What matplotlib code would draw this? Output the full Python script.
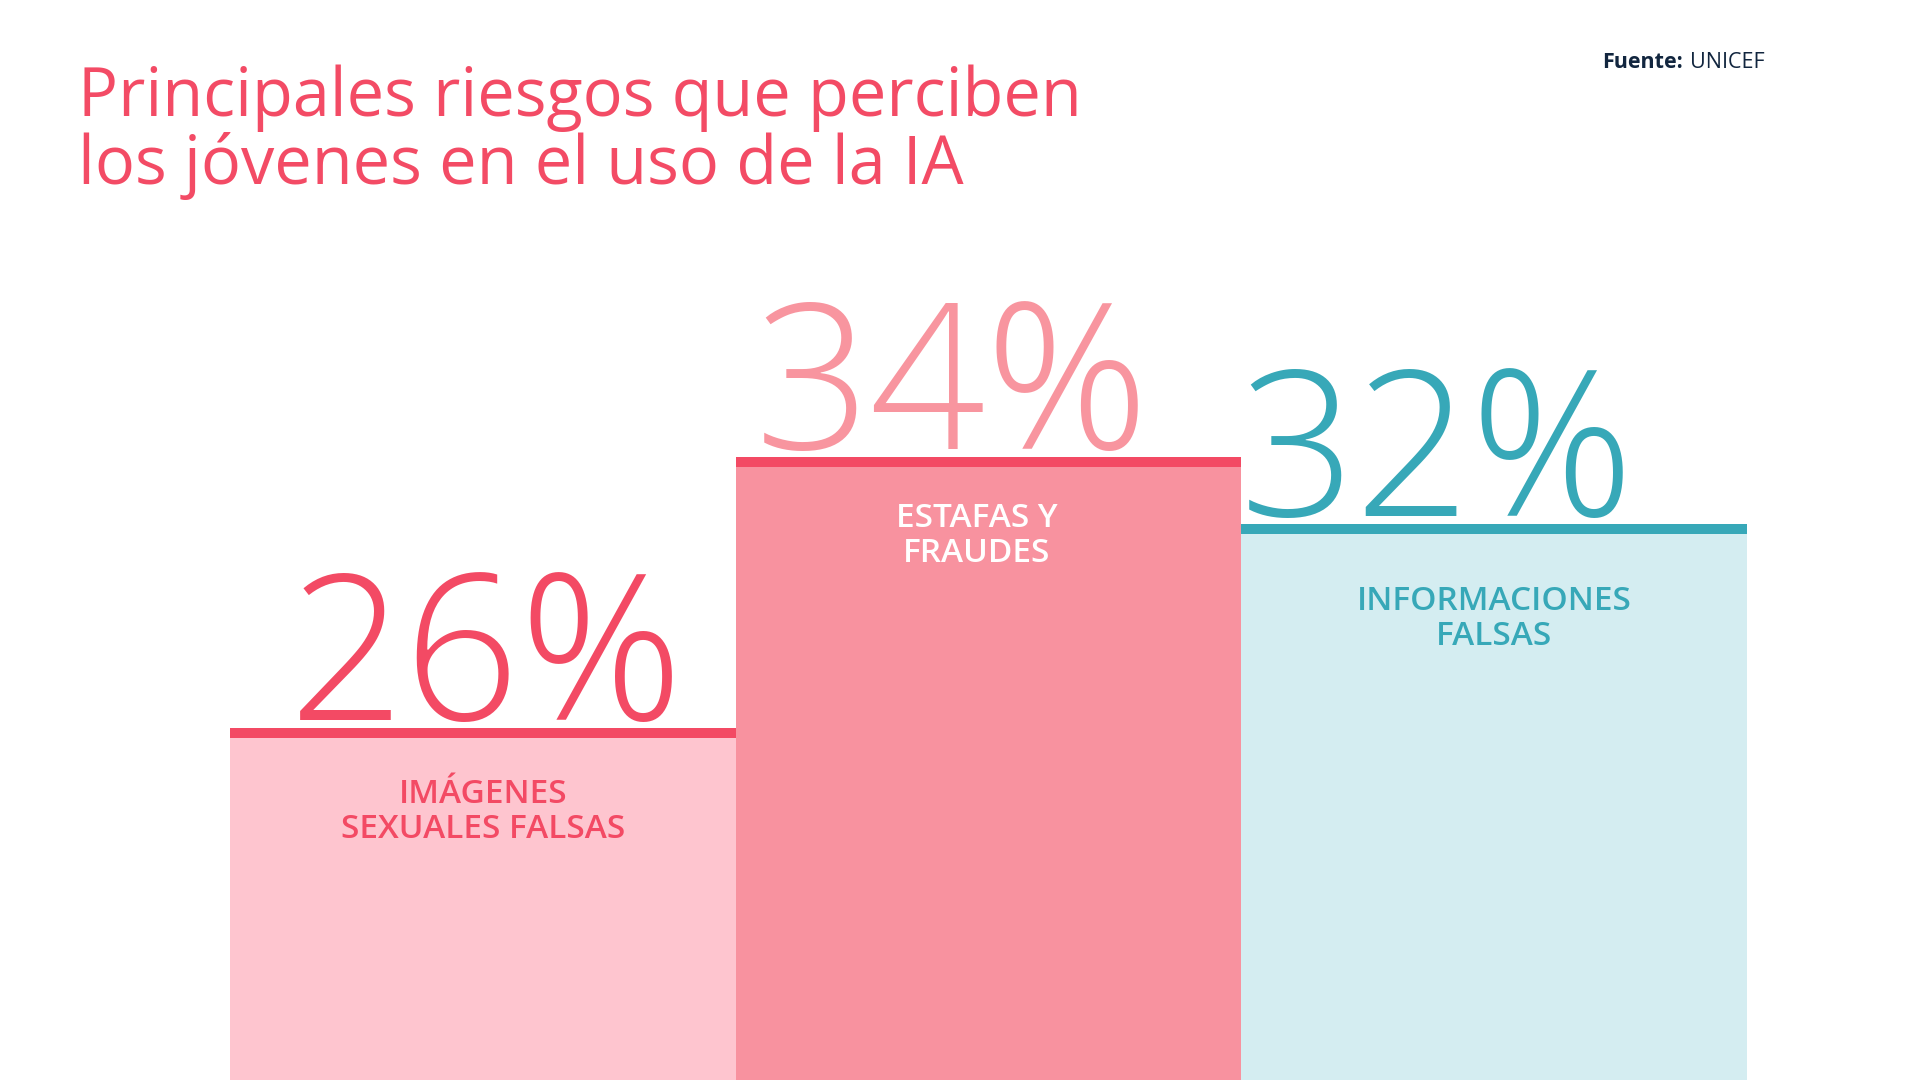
import matplotlib
matplotlib.use("Agg")
import matplotlib.pyplot as plt
import numpy as np

# data
categories = ["IMÁGENES\nSEXUALES FALSAS", "ESTAFAS Y\nFRAUDES", "INFORMACIONES\nFALSAS"]
values = [26, 34, 32]
title_lines = ["Principales riesgos que perciben", "los jóvenes en el uso de la IA"]
source_bold = "Fuente:"
source_text = "UNICEF"

# colours
fill_colors = ["#FEC5CF", "#F8929F", "#D4EDF1"]
cap_colors = ["#F34A64", "#F34A64", "#37A8B8"]
number_colors = ["#F34A64", "#F8959F", "#37A8B8"]
label_colors = ["#F34A64", "#FFFFFF", "#37A8B8"]
red = "#F34B65"
navy = "#12263F"

# per bar nudges in pixels (numbers / labels are not centred the same in the original)
num_dx = [4, -36, -57]
label_dx = [0, -12, 0]
label_dy = [-75, -70, -86]

plt.rcParams['font.family'] = ['Open Sans', 'DejaVu Sans']

W, H = 1920, 1080
fig = plt.figure(figsize=(19.2, 10.8), dpi=100)
fig.patch.set_facecolor("white")

ax = fig.add_axes([0, 0, 1, 1])
ax.set_xlim(-0.9548, 2.842)
ax.set_ylim(15.63, 47.45)
ax.axis("off")

x = np.arange(len(values))
vals = np.array(values, dtype=float)

# bar bodies
ax.bar(x, vals, width=1.0, color=fill_colors, linewidth=0, zorder=1)

# thick coloured cap at the top of each bar (10 px)
thick = 10 * (47.45 - 15.63) / H
ax.bar(x, thick, bottom=vals - thick, width=1.0, color=cap_colors, linewidth=0, zorder=2)

# big percentage numbers
for i, v in enumerate(values):
    ax.annotate(f"{v}%", xy=(x[i], v), xytext=(num_dx[i], 8), textcoords="offset pixels",
                ha="center", va="baseline", fontsize=146, fontweight="light",
                color=number_colors[i], zorder=3)

# category labels inside the bars
for i, lab in enumerate(categories):
    for k, line in enumerate(lab.split("\n")):
        ax.annotate(line, xy=(x[i], values[i]), xytext=(label_dx[i], label_dy[i] - 35 * k),
                    textcoords="offset pixels", ha="center", va="baseline",
                    fontsize=24, fontweight="semibold", color=label_colors[i], zorder=3)

# title
fig.text(78 / W, 1 - 116 / H, title_lines[0], ha="left", va="baseline",
         fontsize=48, color=red)
fig.text(78 / W, 1 - 184 / H, title_lines[1], ha="left", va="baseline",
         fontsize=48, color=red)

# source, bold part then regular part
t1 = fig.text(1602 / W, 1 - 68 / H, source_bold, ha="left", va="baseline",
              fontsize=15.5, fontweight="bold", color=navy)
fig.canvas.draw()
bb = t1.get_window_extent(renderer=fig.canvas.get_renderer())
fig.text((bb.x1 + 7) / W, 1 - 68 / H, source_text, ha="left", va="baseline",
         fontsize=15.5, color=navy)

fig.savefig("out.png", dpi=100, facecolor="white")
